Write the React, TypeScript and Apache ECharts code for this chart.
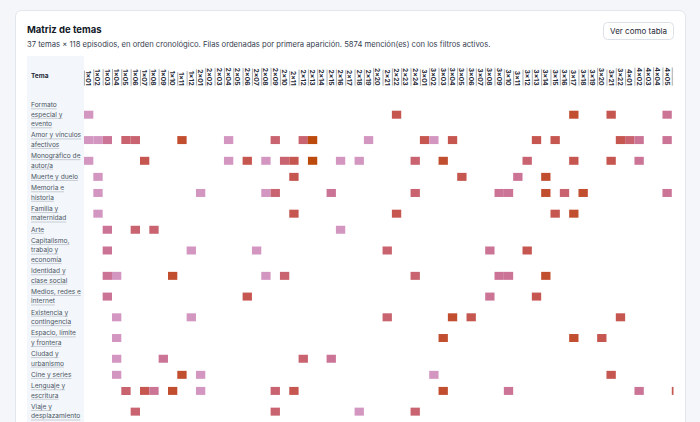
import React, { useEffect, useRef } from "react";
import * as echarts from "echarts";

// ---------- data ----------
const episodes = [
  "1x01","1x02","1x03","1x04","1x05","1x06","1x07","1x08","1x09","1x10","1x11","1x12",
  "2x01","2x02","2x03","2x04","2x05","2x06","2x07","2x08","2x09","2x10","2x11","2x12",
  "2x13","2x14","2x15","2x16","2x17","2x18","2x19","2x20","2x21","2x22","2x23","2x24",
  "3x01","3x02","3x03","3x04","3x05","3x06","3x07","3x08","3x09","3x10","3x11","3x12",
  "3x13","3x14","3x15","3x16","3x17","3x18","3x19","3x20","3x21","3x22",
  "4x01","4x02","4x03","4x04","4x05","4x06",
];

const topicLines: string[][] = [
  ["Formato", "especial y", "evento"],
  ["Amor y vínculos", "afectivos"],
  ["Monográfico de", "autor/a"],
  ["Muerte y duelo"],
  ["Memoria e", "historia"],
  ["Familia y", "maternidad"],
  ["Arte"],
  ["Capitalismo,", "trabajo y", "economía"],
  ["Identidad y", "clase social"],
  ["Medios, redes e", "internet"],
  ["Existencia y", "contingencia"],
  ["Espacio, límite", "y frontera"],
  ["Ciudad y", "urbanismo"],
  ["Cine y series"],
  ["Lenguaje y", "escritura"],
  ["Viaje y", "desplazamiento"],
];

type Cell = [string, number];
const formatoEspecial: Cell[] = [["1x01",1],["2x22",4],["3x17",5],["3x21",4],["4x05",2]];
const amorVinculos: Cell[] = [["1x01",1],["1x02",1],["1x03",2],["1x05",3],["1x06",3],["1x11",5],["2x04",1],["2x09",3],["2x12",3],["2x13",6],["2x19",1],["3x01",4],["3x02",1],["3x04",4],["3x13",4],["3x15",4],["3x22",4],["4x01",3],["4x02",2],["4x05",2]];
const monografico: Cell[] = [["1x01",1],["1x07",4],["2x04",1],["2x06",4],["2x08",1],["2x10",3],["2x11",4],["2x13",6],["2x16",1],["2x18",1],["2x24",3],["3x03",5],["3x12",3],["3x17",4],["3x21",4],["4x02",2]];
const muerteDuelo: Cell[] = [["1x02",1],["2x11",4],["3x05",4],["3x11",2],["3x14",5]];
const memoriaHistoria: Cell[] = [["1x02",1],["2x01",1],["2x08",1],["2x09",3],["2x15",2],["2x24",3],["3x09",2],["3x10",2],["3x14",5],["3x16",3],["3x18",5],["4x05",2]];
const familiaMaternidad: Cell[] = [["1x02",1],["2x11",4],["2x22",4],["3x15",4],["3x17",5]];
const arte: Cell[] = [["1x03",2],["1x06",3],["1x08",3],["2x16",1]];
const capitalismo: Cell[] = [["1x03",2],["1x12",1],["2x07",1],["2x21",3],["3x08",2],["3x12",4]];
const identidadClase: Cell[] = [["1x03",2],["1x04",1],["1x10",5],["2x08",1],["2x10",3],["2x24",3],["3x09",2],["3x10",2],["3x14",5]];
const mediosRedes: Cell[] = [["1x03",2],["2x06",4],["3x08",2],["3x13",4]];
const existencia: Cell[] = [["1x04",1],["1x12",1],["2x21",3],["3x04",5],["3x06",4],["3x22",4]];
const espacioLimite: Cell[] = [["1x04",1],["3x03",5],["3x17",5],["3x20",4]];
const ciudadUrbanismo: Cell[] = [["1x04",1],["1x09",2],["2x12",3],["2x15",2]];
const cineSeries: Cell[] = [["1x04",1],["1x11",5],["2x01",1],["3x02",1],["3x21",4]];
const lenguajeEscritura: Cell[] = [["1x05",3],["1x07",4],["1x08",2],["1x10",5],["2x01",1],["2x09",3],["2x11",4],["3x03",5],["3x10",2],["4x02",2],["4x06",4]];
const viaje: Cell[] = [["1x06",3],["2x09",3],["2x18",1],["2x24",3]];

const rows: Cell[][] = [
  formatoEspecial, amorVinculos, monografico, muerteDuelo, memoriaHistoria,
  familiaMaternidad, arte, capitalismo, identidadClase, mediosRedes, existencia,
  espacioLimite, ciudadUrbanismo, cineSeries, lenguajeEscritura, viaje,
];

const levelColors = ["#d396c1", "#cb7496", "#c8636f", "#c65650", "#c24e30", "#bc4a0c"];

const TITLE = "Matriz de temas";
const SUBTITLE =
  "37 temas × 118 episodios, en orden cronológico. Filas ordenadas por primera aparición. 5874 mención(es) con los filtros activos.";

// ---------- layout ----------
const FONT = "Inter, 'Noto Sans', sans-serif";
const LINE_H = 9.5;
const ROW_PAD = 2.2;
const GRID_LEFT = 84;
const GRID_TOP = 99.7;
const COL_W = 9.33;
const LABEL_FS = 6.6;
const XLABEL_FS = 6.8;
const XLABEL_MARGIN = 14;

export default function App() {
  const ref = useRef<HTMLDivElement>(null);

  useEffect(() => {
    document.body.style.margin = "0";
    if (!ref.current) return;
    const chart = echarts.init(ref.current, undefined, { renderer: "svg" });

    const rowHeights = topicLines.map((l) => ROW_PAD + LINE_H * l.length);
    const centers: number[] = [];
    let acc = 0;
    rowHeights.forEach((h) => {
      centers.push(acc + h / 2);
      acc += h;
    });
    const totalH = acc;

    const cellData: number[][] = [];
    rows.forEach((r, ri) => {
      r.forEach(([ep, v]) => {
        cellData.push([episodes.indexOf(ep), centers[ri], v]);
      });
    });

    const canvas = document.createElement("canvas");
    const ctx = canvas.getContext("2d")!;
    const measure = (t: string, font: string) => {
      ctx.font = font;
      return ctx.measureText(t).width;
    };

    const option: any = {
      animation: false,
      backgroundColor: "#f4f6f9",
      grid: {
        left: GRID_LEFT,
        top: GRID_TOP,
        width: COL_W * episodes.length,
        height: totalH,
      },
      xAxis: {
        type: "category",
        data: episodes,
        position: "top",
        axisLine: { show: false },
        axisTick: { show: false },
        splitLine: { show: false },
        axisLabel: {
          interval: 0,
          rotate: -90,
          margin: XLABEL_MARGIN,
          fontSize: XLABEL_FS,
          fontWeight: 700,
          color: "#1f2937",
          fontFamily: FONT,
        },
      },
      yAxis: {
        type: "value",
        inverse: true,
        min: 0,
        max: totalH,
        show: false,
      },
      visualMap: {
        type: "piecewise",
        show: false,
        dimension: 2,
        seriesIndex: 0,
        pieces: levelColors.map((c, i) => ({ value: i + 1, color: c })),
      },
      graphic: [
        {
          type: "rect",
          z: 0,
          shape: { x: 15.5, y: 10.5, width: 670, height: 440, r: 6 },
          style: { fill: "#ffffff", stroke: "#e2e7ed", lineWidth: 1 },
        },
        {
          type: "rect",
          z: 1,
          shape: { x: 27, y: 56, width: 57, height: 380 },
          style: { fill: "#f3f7fb" },
        },
        {
          type: "rect",
          z: 50,
          shape: { x: 673.5, y: 50, width: 11.5, height: 380 },
          style: { fill: "#ffffff" },
        },
        {
          type: "text",
          z: 5,
          x: 27,
          y: 29.5,
          style: {
            text: TITLE,
            fontSize: 9.5,
            fontWeight: 700,
            fontFamily: FONT,
            fill: "#111827",
            verticalAlign: "middle",
          },
        },
        {
          type: "text",
          z: 5,
          x: 27,
          y: 44.5,
          style: {
            text: SUBTITLE,
            fontSize: 7.65,
            fontFamily: FONT,
            fill: "#374151",
            verticalAlign: "middle",
          },
        },
        {
          type: "rect",
          z: 5,
          shape: { x: 603.5, y: 22.5, width: 70, height: 17, r: 4 },
          style: { fill: "#ffffff", stroke: "#dce1e7", lineWidth: 1 },
        },
        {
          type: "text",
          z: 6,
          x: 638.5,
          y: 31,
          style: {
            text: "Ver como tabla",
            fontSize: 8,
            fontFamily: FONT,
            fill: "#1f2937",
            align: "center",
            verticalAlign: "middle",
          },
        },
        {
          type: "text",
          z: 6,
          x: 31,
          y: 76,
          style: {
            text: "Tema",
            fontSize: 6.5,
            fontWeight: 700,
            fontFamily: FONT,
            fill: "#1f2937",
            verticalAlign: "middle",
          },
        },
      ],
      series: [
        {
          type: "custom",
          name: "cells",
          z: 3,
          data: cellData,
          renderItem: (params: any, api: any) => {
            const p = api.coord([api.value(0), api.value(1)]);
            const w = api.size([1, 0])[0];
            return {
              type: "rect",
              shape: { x: p[0] - w / 2, y: p[1] - 4, width: w, height: 8 },
              style: { fill: api.visual("color") },
            };
          },
        },
        {
          type: "custom",
          name: "labels",
          z: 6,
          data: topicLines.map((_, i) => [0, centers[i], i]),
          renderItem: (params: any, api: any) => {
            const idx = api.value(2);
            const lines = topicLines[idx];
            const p = api.coord([0, api.value(1)]);
            const x = 31;
            const y0 = p[1] - ((lines.length - 1) * LINE_H) / 2;
            const children: any[] = [];
            lines.forEach((ln, li) => {
              const y = y0 + li * LINE_H;
              const w = measure(ln, `${LABEL_FS}px Inter`);
              children.push({
                type: "text",
                x,
                y,
                style: {
                  text: ln,
                  fontSize: LABEL_FS,
                  fontFamily: FONT,
                  fill: "#4b5563",
                  verticalAlign: "middle",
                },
              });
              children.push({
                type: "line",
                shape: { x1: x, y1: y + 3.6, x2: x + w, y2: y + 3.6 },
                style: { stroke: "#9ca3af", lineWidth: 0.5 },
              });
            });
            return { type: "group", children };
          },
        },
        {
          type: "custom",
          name: "episodeUnderline",
          z: 6,
          data: episodes.map((_, i) => [i, 0]),
          renderItem: (params: any, api: any) => {
            const i = api.value(0);
            const p = api.coord([i, 0]);
            const w = measure(episodes[i], `700 ${XLABEL_FS}px Inter`);
            const x = p[0] - 4.2;
            const yBottom = GRID_TOP - XLABEL_MARGIN;
            return {
              type: "line",
              shape: { x1: x, y1: yBottom - w, x2: x, y2: yBottom },
              style: { stroke: "#4b5563", lineWidth: 0.5 },
            };
          },
        },
      ],
    };

    chart.setOption(option);
    return () => chart.dispose();
  }, []);

  return <div ref={ref} style={{ width: 700, height: 422 }} />;
}
